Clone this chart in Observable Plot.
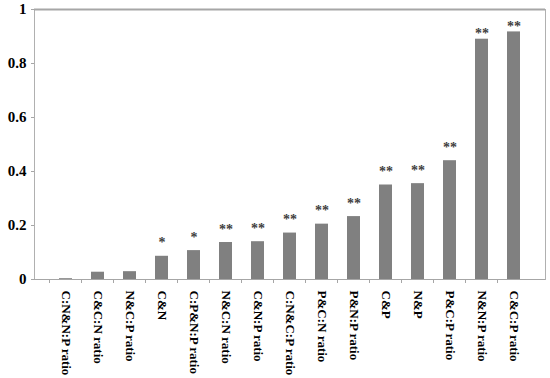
<!DOCTYPE html>
<html>
<head>
<meta charset="utf-8">
<script src="https://cdn.jsdelivr.net/npm/d3@7"></script>
<script src="https://cdn.jsdelivr.net/npm/@observablehq/plot@0.6"></script>
<style>
  html, body { margin: 0; padding: 0; background: #fff; }
  #chart svg { display: block; }
</style>
</head>
<body>
<div id="chart"></div>
<script>
const categories = [
  "C:N&N:P ratio", "C&C:N ratio", "N&C:P ratio", "C&N", "C:P&N:P ratio",
  "N&C:N ratio", "C&N:P ratio", "C:N&C:P ratio", "P&C:N ratio", "P&N:P ratio",
  "C&P", "N&P", "P&C:P ratio", "N&N:P ratio", "C&C:P ratio"
];
const values = [0.003, 0.027, 0.029, 0.086, 0.107, 0.137, 0.140, 0.172, 0.205, 0.233, 0.350, 0.355, 0.440, 0.890, 0.917];
const significance = ["", "", "", "*", "*", "**", "**", "**", "**", "**", "**", "**", "**", "**", "**"];
const yTicks = [0, 0.2, 0.4, 0.6, 0.8, 1];
const yTickLabels = ["0", "0.2", "0.4", "0.6", "0.8", "1"];

const data = categories.map((c, i) => ({category: c, value: values[i], sig: significance[i]}));

const font = "'Liberation Serif', 'Times New Roman', serif";

// small ticks at the boundaries between categories, below the x axis
function boundaryTicks(index, scales, values, dims) {
  const x = scales.x;
  const step = x.step ? x.step() : (x(categories[1]) - x(categories[0]));
  const bw = x.bandwidth ? x.bandwidth() : 0;
  const y0 = dims.height - dims.marginBottom;
  const g = d3.create("svg:g");
  categories.forEach((c) => {
    const left = x(c) + bw / 2 - step / 2;
    g.append("line")
      .attr("x1", left).attr("x2", left)
      .attr("y1", y0).attr("y2", y0 + 4)
      .attr("stroke", "#a6a6a6").attr("stroke-width", 1);
  });
  return g.node();
}

const sigStyle = {fill: "#404040", fontSize: 14, fontWeight: "bold", letterSpacing: 1, lineAnchor: "bottom"};

const chart = Plot.plot({
  width: 550,
  height: 378,
  marginLeft: 34,
  marginRight: 5,
  marginTop: 9,
  marginBottom: 99,
  style: {fontFamily: font, background: "#fff"},
  x: {domain: categories, padding: 0.59, align: 0.5},
  y: {domain: [0, 1]},
  marks: [
    Plot.frame({stroke: "#b0b0b0", strokeWidth: 1}),
    Plot.ruleY([1], {stroke: "#a6a6a6", strokeWidth: 2}),
    Plot.barY(data, {x: "category", y: "value", fill: "#808080"}),
    // labels above the lower bars
    Plot.text(data, {filter: (d, i) => i < 13, x: "category", y: "value", text: "sig", dy: -9, ...sigStyle}),
    // the two tallest bars have their labels set closer to the bar top
    Plot.text(data, {filter: (d, i) => i >= 13, x: "category", y: "value", text: "sig", dy: -1, ...sigStyle}),
    Plot.axisY({ticks: yTicks, tickFormat: (d) => yTickLabels[yTicks.indexOf(d)],
      tickSize: 3, tickPadding: 5, stroke: "#a6a6a6", fill: "#000",
      fontSize: 15, fontWeight: "bold", label: null}),
    Plot.axisX({tickSize: 0, tickPadding: 11, tickRotate: 90, fill: "#000",
      fontSize: 13, fontWeight: "bold", label: null}),
    Plot.ruleY([0], {stroke: "#a6a6a6", render: boundaryTicks}),
    Plot.ruleY([0], {stroke: "#a6a6a6"})
  ]
});

document.getElementById("chart").appendChild(chart);
</script>
</body>
</html>
